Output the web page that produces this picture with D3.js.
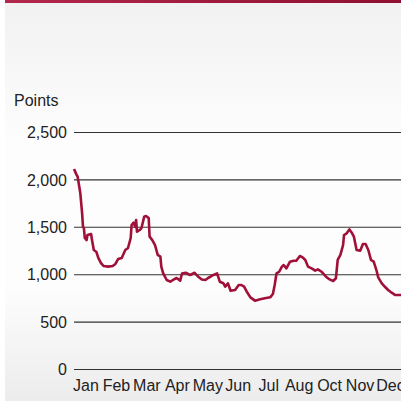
<!DOCTYPE html>
<html>
<head>
<meta charset="utf-8">
<script src="https://cdn.jsdelivr.net/npm/d3@7"></script>
<style>
  html, body { margin: 0; padding: 0; background: #fff; }
  svg { display: block; }
  text { font-family: "Liberation Sans", Arial, sans-serif; fill: #222; }
</style>
</head>
<body>
<svg id="chart"></svg>
<script>
// day of year and index points
const days = [0, 3, 4, 7, 9, 10, 11, 12, 14, 15, 19, 20, 22, 25, 27, 30, 33, 38, 43, 46, 49, 53, 57, 60, 63, 64, 66, 68, 69, 70, 73, 75, 78, 80, 83, 84, 87, 90, 93, 96, 97, 99, 103, 107, 110, 114, 118, 120, 124, 129, 134, 138, 142, 146, 149, 155, 159, 162, 166, 168, 171, 174, 179, 183, 186, 189, 192, 196, 201, 207, 212, 218, 221, 223, 225, 228, 231, 233, 236, 240, 244, 247, 251, 254, 257, 260, 264, 268, 271, 275, 280, 284, 288, 291, 293, 296, 299, 300, 303, 306, 309, 311, 314, 318, 321, 324, 327, 330, 333, 336, 338, 342, 346, 349, 353, 357, 362, 365];
const points = [2110, 2045, 2030, 1856, 1645, 1500, 1487, 1382, 1360, 1413, 1424, 1360, 1255, 1234, 1171, 1118, 1086, 1080, 1086, 1108, 1160, 1171, 1255, 1276, 1382, 1519, 1543, 1500, 1572, 1448, 1466, 1487, 1607, 1614, 1593, 1396, 1360, 1308, 1203, 1185, 1080, 1012, 939, 921, 939, 960, 932, 1008, 1015, 992, 1015, 974, 945, 939, 960, 992, 1008, 921, 904, 868, 904, 826, 833, 886, 886, 868, 815, 756, 721, 735, 746, 756, 791, 886, 1008, 1026, 1080, 1097, 1062, 1132, 1142, 1142, 1192, 1178, 1150, 1080, 1062, 1037, 1051, 1026, 974, 945, 928, 957, 1150, 1203, 1308, 1413, 1431, 1473, 1431, 1396, 1255, 1248, 1319, 1319, 1255, 1150, 1132, 1044, 967, 904, 862, 833, 805, 780, 780, 780];
const months = ["Jan", "Feb", "Mar", "Apr", "May", "Jun", "Jul", "Aug", "Oct", "Nov", "Dec"];
const yTicks = [0, 500, 1000, 1500, 2000, 2500];

const W = 401, H = 401;
const svg = d3.select("#chart").attr("width", W).attr("height", H);

const defs = svg.append("defs");
const bg = defs.append("linearGradient").attr("id", "bg")
  .attr("x1", 0).attr("y1", 0).attr("x2", 0).attr("y2", 1);
bg.append("stop").attr("offset", "0").attr("stop-color", "#f1f1f1");
bg.append("stop").attr("offset", "0.35").attr("stop-color", "#fdfdfd");
bg.append("stop").attr("offset", "0.72").attr("stop-color", "#fdfdfd");
bg.append("stop").attr("offset", "1").attr("stop-color", "#ececec");

const bar = defs.append("linearGradient").attr("id", "bar")
  .attr("x1", 0).attr("y1", 0).attr("x2", 1).attr("y2", 0);
bar.append("stop").attr("offset", "0").attr("stop-color", "#b3284c");
bar.append("stop").attr("offset", "1").attr("stop-color", "#8e0f32");

defs.append("clipPath").attr("id", "clip")
  .append("rect").attr("x", 0).attr("y", 0).attr("width", W).attr("height", H);

svg.append("rect").attr("x", 5).attr("y", 0).attr("width", W - 5).attr("height", H)
  .attr("fill", "url(#bg)");
svg.append("rect").attr("x", 5).attr("y", 0).attr("width", W - 5).attr("height", 3)
  .attr("fill", "url(#bar)");

const x = d3.scaleLinear().domain([0, 365]).range([74, 402.5]);
const y = d3.scaleLinear().domain([0, 2500]).range([369, 132]);
const xm = d3.scalePoint().domain(months).range([85.5, 390]);

// gridlines + value labels
const yAxis = svg.append("g")
  .attr("transform", "translate(74,0)")
  .call(d3.axisRight(y).tickValues(yTicks).tickSize(W - 74).tickFormat(d3.format(",")));
yAxis.select(".domain").remove();
yAxis.selectAll(".tick line").attr("stroke", "#333").attr("stroke-width", 1.1);
yAxis.selectAll(".tick text")
  .attr("x", -7).attr("dy", "0.36em")
  .attr("text-anchor", "end")
  .attr("font-size", 16).attr("font-family", null).attr("fill", "#222");
yAxis.attr("font-family", null);

// month labels
const xAxis = svg.append("g")
  .attr("transform", "translate(0,369)")
  .call(d3.axisBottom(xm).tickSize(0).tickPadding(11));
xAxis.select(".domain").remove();
xAxis.attr("font-family", null);
xAxis.selectAll(".tick text").attr("font-size", 16).attr("fill", "#222");

svg.append("text").attr("x", 14).attr("y", 106)
  .attr("font-size", 16).text("Points");

const line = d3.line()
  .x((d, i) => x(days[i]))
  .y(d => y(d));

svg.append("path")
  .datum(points)
  .attr("clip-path", "url(#clip)")
  .attr("fill", "none")
  .attr("stroke", "#a01039")
  .attr("stroke-width", 2.6)
  .attr("stroke-linejoin", "round")
  .attr("d", line);
</script>
</body>
</html>
